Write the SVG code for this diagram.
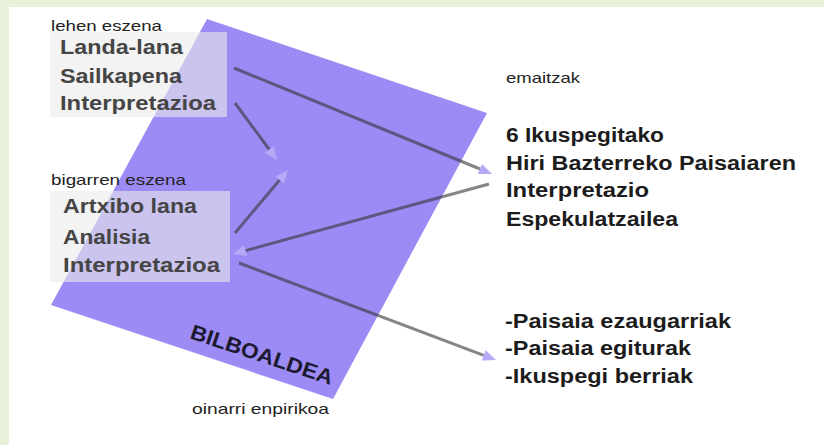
<svg xmlns="http://www.w3.org/2000/svg" width="824" height="445" viewBox="0 0 824 445">
  <defs>
    <marker id="arr" markerUnits="userSpaceOnUse" markerWidth="13" markerHeight="11" refX="0" refY="5.5" orient="auto" overflow="visible">
      <path d="M0,0 L13,5.5 L0,11 z" fill="#b5a9f8"/>
    </marker>
    <style>
      .lbl { font-family: "Liberation Sans", Arial, sans-serif; font-size: 15px; fill: #222; }
      .box { fill: #ebebeb; fill-opacity: 0.6; }
      .stage { font-family: "Liberation Sans", Arial, sans-serif; font-size: 20px; font-weight: bold; fill: #454545; }
      .res { font-family: "Liberation Sans", Arial, sans-serif; font-size: 20px; font-weight: bold; fill: #1c1c1c; }
      .conn { stroke: #333; stroke-opacity: 0.6; stroke-width: 3; fill: none; marker-end: url(#arr); }
    </style>
  </defs>
  <rect x="0" y="0" width="824" height="445" fill="#e8f0da"/>
  <rect x="9" y="7" width="815" height="438" fill="#ffffff"/>

  <g id="bilboaldea">
    <polygon points="207,19 487,113 333,399 51,305" fill="#9c8bf5"/>
    <text transform="translate(189,338) rotate(18.4)" x="0" y="0" textLength="149" lengthAdjust="spacingAndGlyphs" font-family="Liberation Sans, Arial, sans-serif" font-size="21" font-weight="bold" fill="#1c1a30">BILBOALDEA</text>
  </g>

  <g id="lehen-eszena">
    <text class="lbl" x="51" y="31" textLength="111" lengthAdjust="spacingAndGlyphs">lehen eszena</text>
    <rect class="box" x="50" y="32" width="177" height="85"/>
    <text class="stage" x="60" y="54" textLength="123" lengthAdjust="spacingAndGlyphs">Landa-lana</text>
    <text class="stage" x="60" y="83" textLength="122" lengthAdjust="spacingAndGlyphs">Sailkapena</text>
    <text class="stage" x="60" y="110" textLength="156" lengthAdjust="spacingAndGlyphs">Interpretazioa</text>
  </g>

  <g id="bigarren-eszena">
    <text class="lbl" x="51" y="185" textLength="135" lengthAdjust="spacingAndGlyphs">bigarren eszena</text>
    <rect class="box" x="50" y="191" width="180" height="91"/>
    <text class="stage" x="63" y="213" textLength="134" lengthAdjust="spacingAndGlyphs">Artxibo lana</text>
    <text class="stage" x="63" y="244" textLength="87" lengthAdjust="spacingAndGlyphs">Analisia</text>
    <text class="stage" x="63" y="272" textLength="157" lengthAdjust="spacingAndGlyphs">Interpretazioa</text>
  </g>

  <g id="emaitzak">
    <text class="lbl" x="506" y="83" textLength="74" lengthAdjust="spacingAndGlyphs">emaitzak</text>
    <text class="res" x="506" y="142" textLength="158" lengthAdjust="spacingAndGlyphs">6 Ikuspegitako</text>
    <text class="res" x="506" y="170" textLength="290" lengthAdjust="spacingAndGlyphs">Hiri Bazterreko Paisaiaren</text>
    <text class="res" x="506" y="197" textLength="143" lengthAdjust="spacingAndGlyphs">Interpretazio</text>
    <text class="res" x="506" y="226" textLength="172" lengthAdjust="spacingAndGlyphs">Espekulatzailea</text>
  </g>

  <g id="paisaia">
    <text class="res" x="505" y="328" textLength="226" lengthAdjust="spacingAndGlyphs">-Paisaia ezaugarriak</text>
    <text class="res" x="505" y="355" textLength="186" lengthAdjust="spacingAndGlyphs">-Paisaia egiturak</text>
    <text class="res" x="505" y="383" textLength="188" lengthAdjust="spacingAndGlyphs">-Ikuspegi berriak</text>
  </g>

  <g id="oinarri">
    <text class="lbl" x="192" y="414" textLength="137" lengthAdjust="spacingAndGlyphs">oinarri enpirikoa</text>
  </g>

  <g id="connectors">
    <line class="conn" x1="234" y1="68" x2="480" y2="169"/>
    <line class="conn" x1="235" y1="103" x2="269.3" y2="149.5"/>
    <line class="conn" x1="235" y1="233" x2="279.6" y2="180"/>
    <line class="conn" x1="489" y1="184" x2="245.5" y2="250.6"/>
    <line class="conn" x1="239" y1="263" x2="483.8" y2="355.4"/>
  </g>
</svg>
